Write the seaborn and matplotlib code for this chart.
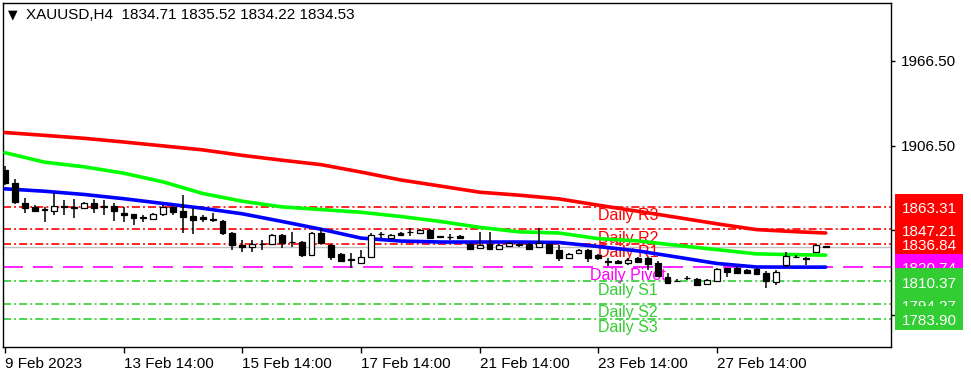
import matplotlib
matplotlib.use("Agg")
import matplotlib.pyplot as plt
import matplotlib.transforms as mtrans
from matplotlib.patches import Rectangle
import seaborn as sns
import numpy as np
import pandas as pd

# ---------------- data ----------------
symbol = "XAUUSD,H4"
last_ohlc = [1834.71, 1835.52, 1834.22, 1834.53]

opens = [1889.4, 1880.2, 1865.9, 1863.1, 1861.2, 1860.2, 1863.4, 1862.2, 1862.4, 1865.9,
         1862.9, 1863.8, 1858.8, 1858.1, 1855.5, 1854.5, 1858.1, 1863.1, 1860.2, 1856.7,
         1856.0, 1854.5, 1853.1, 1844.6, 1836.0, 1834.6, 1836.6, 1836.8, 1843.2, 1838.0,
         1838.2, 1828.9, 1844.6, 1836.0, 1829.6, 1825.6, 1823.2, 1827.5, 1843.7, 1841.0,
         1844.6, 1845.1, 1844.6, 1846.7, 1841.9, 1841.5, 1842.4, 1836.8, 1833.9, 1836.8,
         1833.2, 1835.3, 1836.2, 1836.8, 1834.6, 1836.8, 1832.5, 1826.8, 1830.3, 1832.5,
         1828.9, 1824.1, 1824.7, 1823.2, 1826.8, 1826.8, 1823.2, 1813.3, 1810.6, 1812.4,
         1811.8, 1808.3, 1810.4, 1819.7, 1819.7, 1818.3, 1819.0, 1816.1, 1809.7, 1821.8,
         1827.3, 1826.3, 1831.1, 1834.71]
highs = [1892.3, 1883.0, 1869.5, 1864.5, 1863.1, 1873.1, 1868.1, 1868.8, 1866.6, 1868.8,
         1868.1, 1865.9, 1863.1, 1858.1, 1857.4, 1858.8, 1864.5, 1864.5, 1871.6, 1862.4,
         1857.4, 1858.8, 1853.8, 1845.3, 1839.6, 1839.6, 1839.6, 1843.9, 1843.9, 1845.3,
         1838.9, 1845.3, 1848.1, 1836.8, 1830.3, 1830.3, 1832.5, 1844.6, 1845.3, 1843.9,
         1845.3, 1848.1, 1847.4, 1847.4, 1842.0, 1843.9, 1843.2, 1837.5, 1845.3, 1845.3,
         1836.8, 1838.2, 1837.5, 1837.5, 1848.1, 1837.5, 1836.0, 1830.3, 1833.2, 1833.2,
         1829.6, 1826.8, 1825.4, 1826.8, 1827.5, 1827.5, 1824.7, 1816.1, 1811.8, 1814.0,
         1812.6, 1811.8, 1819.7, 1819.7, 1820.4, 1819.0, 1819.7, 1817.5, 1818.3, 1831.1,
         1828.9, 1827.5, 1836.8, 1835.52]
lows = [1878.7, 1865.2, 1858.8, 1859.5, 1852.4, 1857.4, 1857.4, 1855.3, 1861.7, 1858.8,
        1857.4, 1853.1, 1852.4, 1850.3, 1852.4, 1853.8, 1856.7, 1857.4, 1844.6, 1843.9,
        1852.4, 1852.4, 1843.2, 1832.5, 1831.1, 1831.1, 1832.5, 1836.0, 1833.9, 1834.6,
        1827.5, 1828.2, 1836.8, 1825.4, 1823.9, 1819.7, 1822.5, 1826.8, 1841.0, 1840.3,
        1842.4, 1842.4, 1843.9, 1840.3, 1841.0, 1839.6, 1840.3, 1832.5, 1833.2, 1832.5,
        1832.5, 1834.6, 1834.6, 1832.5, 1833.9, 1829.6, 1824.7, 1826.1, 1829.6, 1823.9,
        1825.4, 1821.1, 1822.5, 1821.8, 1823.2, 1818.3, 1813.3, 1808.3, 1809.7, 1811.1,
        1806.9, 1807.6, 1809.7, 1813.3, 1815.4, 1815.4, 1814.7, 1805.4, 1807.6, 1820.4,
        1826.8, 1821.8, 1830.3, 1834.22]
closes = [1880.2, 1866.6, 1862.4, 1860.2, 1860.9, 1863.8, 1863.1, 1862.4, 1865.9, 1862.4,
          1863.1, 1860.2, 1857.4, 1855.3, 1855.3, 1858.1, 1863.1, 1859.5, 1856.0, 1853.8,
          1854.5, 1853.8, 1844.6, 1836.0, 1834.6, 1836.8, 1836.8, 1843.2, 1837.5, 1838.2,
          1828.9, 1844.6, 1837.5, 1827.5, 1824.7, 1825.4, 1827.5, 1843.2, 1843.9, 1843.2,
          1843.2, 1845.3, 1846.7, 1841.0, 1841.7, 1841.7, 1841.0, 1833.2, 1836.0, 1833.2,
          1836.0, 1837.5, 1836.0, 1833.2, 1837.5, 1830.3, 1826.8, 1829.6, 1832.5, 1826.8,
          1826.8, 1823.9, 1823.2, 1825.4, 1823.9, 1822.5, 1814.0, 1809.0, 1810.4, 1812.6,
          1807.6, 1811.1, 1819.0, 1816.8, 1816.1, 1816.1, 1815.4, 1810.4, 1816.8, 1828.2,
          1827.5, 1826.1, 1836.0, 1834.53]

tick_bars = [0, 12, 24, 36, 48, 60, 72]
tick_labels = ["9 Feb 2023", "13 Feb 14:00", "15 Feb 14:00", "17 Feb 14:00",
               "21 Feb 14:00", "23 Feb 14:00", "27 Feb 14:00"]

ma_bars = [0, 4, 8, 12, 16, 20, 24, 28, 32, 36, 40, 44, 48, 52, 56, 60, 64, 68, 72, 76, 80, 83]
ma_red = [1915.8, 1913.8, 1911.7, 1909.1, 1906.3, 1903.5, 1899.6, 1896.2, 1893.0, 1887.8, 1882.2,
          1877.9, 1873.5, 1871.4, 1868.8, 1864.3, 1860.0, 1855.6, 1851.1, 1847.0, 1845.5, 1844.6]
ma_green = [1901.5, 1894.8, 1891.5, 1887.0, 1880.8, 1872.6, 1867.1, 1863.1, 1861.2, 1859.3, 1856.3,
            1852.8, 1848.6, 1845.4, 1844.6, 1840.6, 1839.0, 1835.8, 1832.8, 1829.8, 1829.2, 1828.9]
ma_blue = [1875.9, 1874.2, 1871.9, 1868.9, 1865.5, 1862.1, 1858.2, 1852.8, 1847.2, 1841.0, 1838.9,
           1838.2, 1838.2, 1838.2, 1837.9, 1835.0, 1831.9, 1827.5, 1823.0, 1820.5, 1820.4, 1820.4]

level_names = ["Daily R3", "Daily R2", "Daily R1", "Daily Pivot", "Daily S1", "Daily S2", "Daily S3"]
level_values = [1863.31, 1847.21, 1836.84, 1820.74, 1810.37, 1794.27, 1783.90]

price_ticks = [1786.50, 1846.50, 1906.50, 1966.50]

# ---------------- style ----------------
RED, MAG, GRN = "#FF0000", "#FF00FF", "#32CD32"
level_colors = [RED, RED, RED, MAG, GRN, GRN, GRN]
level_label_bar = 63

sns.set_theme(style="white")
plt.rcParams["font.family"] = ["Liberation Sans", "DejaVu Sans"]
plt.rcParams["lines.scale_dashes"] = False

W, H = 971, 388
fig = plt.figure(figsize=(W / 100, H / 100), dpi=100)
fig.patch.set_facecolor("white")
ax = fig.add_axes([3 / W, 1 - 347 / H, (891 - 3) / W, (347 - 3) / H])
ax.set_facecolor("white")
ax.set_xlim(-0.2, 89.6)
ax.set_ylim(1763.8, 2007.6)

# level lines
dashdot = (0, (5.8, 2.2, 1.4, 2.2))
longdash = (0, (14.4, 7.2))
for name, val, col in zip(level_names, level_values, level_colors):
    ls = longdash if name == "Daily Pivot" else dashdot
    ax.axhline(val, color=col, linestyle=ls, linewidth=1.2, zorder=2)
    ax.text(level_label_bar, val - 1.0, name, color=col, ha="center", va="top",
            fontsize=11.5, zorder=3)

# bid line
ax.axhline(last_ohlc[3], color="#C0C0C0", linewidth=1, zorder=1)

# moving averages
ma_df = pd.DataFrame({"bar": ma_bars, "red": ma_red, "green": ma_green, "blue": ma_blue})
for col, c in [("red", "#FF0000"), ("green", "#00FF00"), ("blue", "#0000FF")]:
    sns.lineplot(data=ma_df, x="bar", y=col, ax=ax, color=c, linewidth=2.6,
                 legend=False, zorder=4)

# candles
idx = np.arange(len(opens))
o = np.array(opens); c = np.array(closes)
ax.vlines(idx, lows, highs, color="black", linewidth=1.1, zorder=5)
bottoms = np.minimum(o, c)
heights = np.maximum(np.abs(c - o), 0.5)
fcs = ["white" if cc > oo else "black" for oo, cc in zip(o, c)]
ax.bar(idx, heights, bottom=bottoms, width=0.6, color=fcs, edgecolor="black",
       linewidth=0.9, zorder=6)

# axes styling
for s in ax.spines.values():
    s.set_color("black")
    s.set_linewidth(1)
ax.yaxis.tick_right()
ax.set_yticks(price_ticks)
ax.set_yticklabels([f"{p:.2f}" for p in price_ticks])
ax.tick_params(axis="y", right=True, left=False, labelright=True, labelleft=False,
               direction="out", length=3, width=1, pad=4, labelsize=11, colors="black")
ax.set_xticks(tick_bars)
ax.set_xticklabels(tick_labels, ha="left")
ax.tick_params(axis="x", bottom=True, direction="out", length=4, width=1, pad=3,
               labelsize=11, colors="black")
ax.set_xlabel("")
ax.set_ylabel("")
ax.grid(False)

# price boxes on the right axis
tr = mtrans.blended_transform_factory(fig.transFigure, ax.transData)
px = 1.411  # pixels per price unit
box_order = [2, 5, 0, 1, 3, 4, 6]
box_x0, box_x1 = 895 / W, 963 / W
for z, k in enumerate(box_order):
    val, col = level_values[k], level_colors[k]
    rect = Rectangle((box_x0, val - 11 / px), box_x1 - box_x0, 24 / px, transform=tr,
                     facecolor=col, edgecolor="none", clip_on=False, zorder=20 + 2 * z)
    ax.add_artist(rect)
    ax.text((box_x0 + box_x1) / 2, val - 2.5 / px, f"{val:.2f}", transform=tr, color="white",
            ha="center", va="center", fontsize=11, clip_on=False, zorder=21 + 2 * z)

# title
fig.text(8 / W, 1 - 15 / H, "\u25BC", fontsize=9, va="center", ha="left",
         family=["DejaVu Sans"], color="black")
fig.text(26 / W, 1 - 15 / H, f"{symbol}  " + " ".join(f"{v:.2f}" for v in last_ohlc),
         fontsize=11, va="center", ha="left", color="black")

fig.savefig("out.png", dpi=100, facecolor="white")
